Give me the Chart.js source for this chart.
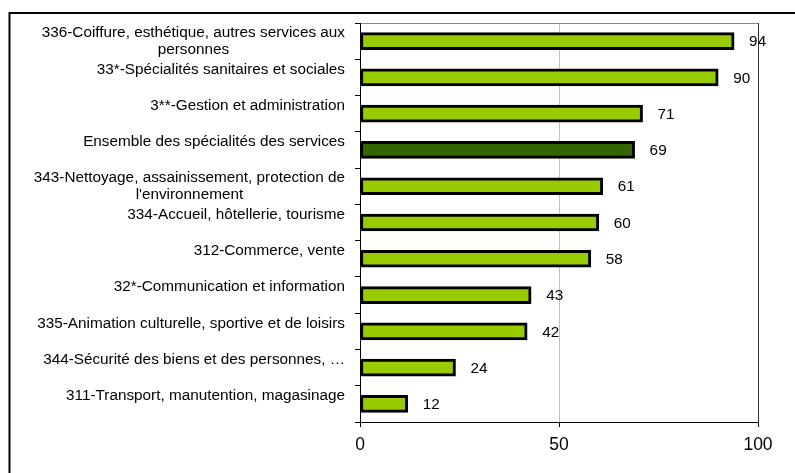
<!DOCTYPE html>
<html>
<head>
<meta charset="utf-8">
<script src="https://cdn.jsdelivr.net/npm/chart.js@4/dist/chart.umd.min.js"></script>
<style>
  body { margin: 0; background: #fff; }
  canvas { display: block; }
</style>
</head>
<body>
<canvas id="chart" width="795" height="473"></canvas>
<script>
const categories = [
  ['336-Coiffure, esthétique, autres services aux', 'personnes'],
  '33*-Spécialités sanitaires et sociales',
  '3**-Gestion et administration',
  'Ensemble des spécialités des services',
  ['343-Nettoyage, assainissement, protection de', "l'environnement"],
  '334-Accueil, hôtellerie, tourisme',
  '312-Commerce, vente',
  '32*-Communication et information',
  '335-Animation culturelle, sportive et de loisirs',
  '344-Sécurité des biens et des personnes, …',
  '311-Transport, manutention, magasinage'
];
const values = [94, 90, 71, 69, 61, 60, 58, 43, 42, 24, 12];
const xTicks = [0, 50, 100];
const highlight = 'Ensemble des spécialités des services';

const FONT = 'Liberation Sans, Arial, sans-serif';

// cadre extérieur (coin haut gauche, coupé à droite et en bas)
const frame = {
  id: 'frame',
  beforeDraw(chart) {
    const c = chart.ctx;
    c.save();
    c.strokeStyle = '#000';
    c.lineWidth = 2;
    c.beginPath();
    c.moveTo(795, 13);
    c.lineTo(9.5, 13);
    c.lineTo(9.5, 473);
    c.stroke();
    c.restore();
  }
};

// libellés de catégories : bloc aligné à droite, lignes centrées entre elles
const catLabels = {
  id: 'catLabels',
  afterDraw(chart) {
    const c = chart.ctx;
    const y = chart.scales.y;
    c.save();
    c.font = '15.3px ' + FONT;
    c.fillStyle = '#000';
    c.textBaseline = 'middle';
    c.textAlign = 'center';
    categories.forEach((lab, i) => {
      const lines = Array.isArray(lab) ? lab : [lab, ''];
      const w = Math.max(...lines.map(l => c.measureText(l).width));
      const cx = 345 - w / 2;
      const cy = y.getPixelForTick(i);
      const lh = 17;
      lines.forEach((l, j) => {
        c.fillText(l, cx, cy + (j - (lines.length - 1) / 2) * lh + 0.5);
      });
    });
    c.restore();
  }
};

// valeurs à droite des barres
const valueLabels = {
  id: 'valueLabels',
  afterDatasetsDraw(chart) {
    const c = chart.ctx;
    const meta = chart.getDatasetMeta(0);
    c.save();
    c.font = '15.3px ' + FONT;
    c.fillStyle = '#000';
    c.textBaseline = 'middle';
    c.textAlign = 'left';
    meta.data.forEach((bar, i) => {
      c.fillText(String(values[i]), bar.x + 15, bar.y + 1);
    });
    c.restore();
  }
};

new Chart(document.getElementById('chart'), {
  type: 'bar',
  data: {
    labels: categories,
    datasets: [{
      data: values,
      backgroundColor: ctx => categories[ctx.dataIndex] === highlight ? '#336600' : '#99cc00',
      borderColor: '#000',
      borderWidth: 3,
      borderSkipped: false,
      barThickness: 17
    }]
  },
  options: {
    indexAxis: 'y',
    responsive: false,
    animation: false,
    devicePixelRatio: 1,
    layout: { padding: { top: 23, right: 37, left: 0, bottom: 0 } },
    plugins: { legend: { display: false }, tooltip: { enabled: false } },
    scales: {
      x: {
        min: 0,
        max: 100,
        afterBuildTicks: s => { s.ticks = xTicks.map(v => ({ value: v })); },
        afterFit: s => { s.height = 51; },
        ticks: { color: '#000', font: { family: FONT, size: 17.5 }, padding: 8, maxRotation: 0 },
        grid: {
          color: ctx => ctx.tick && ctx.tick.value === 50 ? '#c0c0c0' : (ctx.tick && ctx.tick.value === 100 ? '#333' : 'rgba(0,0,0,0)'),
          tickColor: '#000',
          tickLength: 5
        },
        border: { color: '#000', width: 1 }
      },
      y: {
        afterFit: s => { s.width = 360; },
        ticks: { display: false },
        grid: {
          offset: true,
          color: ctx => ctx.index === 0 ? '#888' : 'rgba(0,0,0,0)',
          tickColor: '#000',
          tickLength: 5
        },
        border: { color: '#000', width: 1 }
      }
    }
  },
  plugins: [frame, catLabels, valueLabels]
});
</script>
</body>
</html>
